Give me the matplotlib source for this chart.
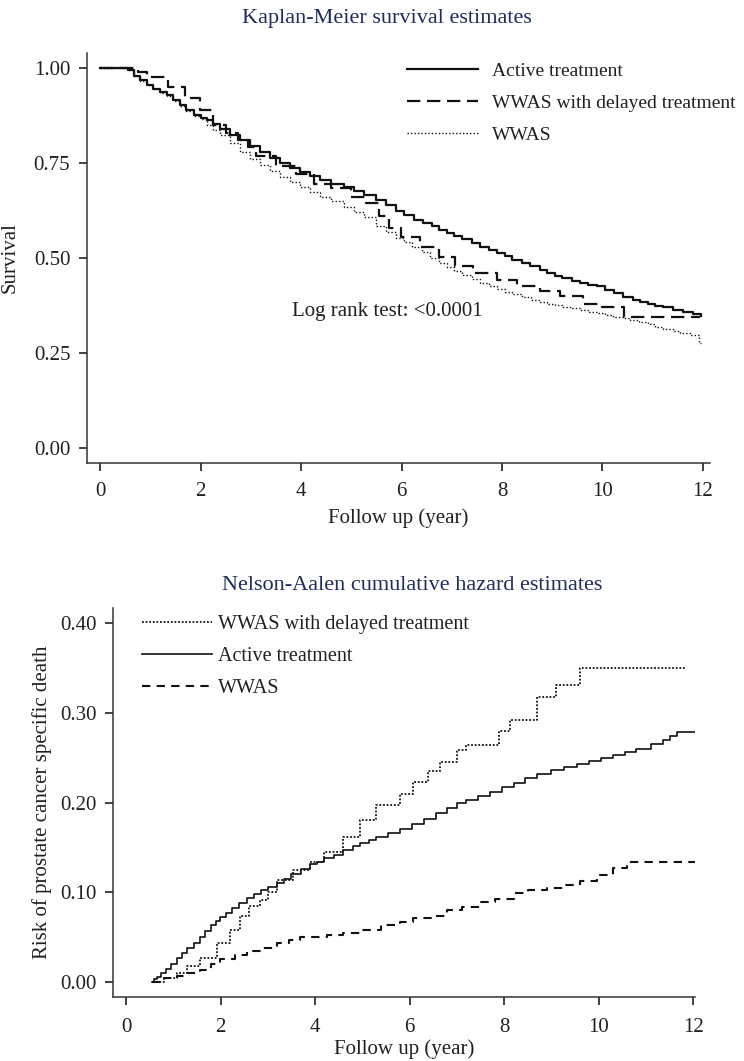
import matplotlib
matplotlib.use('Agg')
import matplotlib.pyplot as plt
from matplotlib.ticker import FormatStrFormatter

plt.rcParams['font.family'] = ['Liberation Serif', 'DejaVu Serif']

# Kaplan-Meier survival
active_t = [0, 0.56, 0.68, 0.8, 0.93, 1.06, 1.2, 1.33, 1.46, 1.59, 1.72, 1.86, 2.0, 2.12, 2.25, 2.39,
            2.59, 2.79, 2.98, 3.18, 3.38, 3.58, 3.78, 3.98, 4.18, 4.38, 4.6, 4.85, 5.05, 5.25, 5.5,
            5.7, 5.9, 6.05, 6.24, 6.42, 6.6, 6.75, 6.9, 7.05, 7.2, 7.4, 7.57, 7.75, 7.9, 8.05, 8.2,
            8.4, 8.55, 8.75, 8.9, 9.05, 9.2, 9.4, 9.55, 9.72, 9.89, 10.05, 10.22, 10.4, 10.6, 10.75,
            10.9, 11.05, 11.2, 11.4, 11.6, 11.8, 11.97]
active_s = [1.0, 0.995, 0.98, 0.968, 0.957, 0.946, 0.937, 0.929, 0.916, 0.903, 0.89, 0.876, 0.87, 0.863, 0.852, 0.84,
            0.825, 0.81, 0.795, 0.78, 0.764, 0.749, 0.738, 0.727, 0.716, 0.705, 0.696, 0.687, 0.676, 0.665, 0.652,
            0.64, 0.625, 0.612, 0.60, 0.592, 0.583, 0.574, 0.565, 0.558, 0.55, 0.54, 0.53, 0.52, 0.513, 0.504, 0.495,
            0.486, 0.478, 0.468, 0.46, 0.453, 0.447, 0.44, 0.435, 0.43, 0.425, 0.417, 0.408, 0.398, 0.39, 0.384,
            0.378, 0.374, 0.37, 0.363, 0.357, 0.352, 0.347]

delayed_t = [0, 0.75, 0.93, 1.36, 1.69, 1.99, 2.25, 2.5, 2.75, 2.95, 3.1, 3.5, 3.9, 4.25, 4.6,
             5.0, 5.3, 5.55, 5.75, 5.98, 6.37, 6.74, 7.07, 7.43, 7.9, 8.3, 8.76, 9.16, 9.62,
             10.0, 10.42, 11.95]
delayed_s = [1.0, 0.99, 0.976, 0.95, 0.922, 0.89, 0.85, 0.83, 0.81, 0.792, 0.77, 0.742, 0.72, 0.695, 0.684,
             0.661, 0.644, 0.61, 0.578, 0.556, 0.53, 0.503, 0.48, 0.46, 0.443, 0.425, 0.412, 0.40, 0.38,
             0.37, 0.345, 0.345]

wwas_t = [0, 0.56, 0.68, 0.8, 0.93, 1.06, 1.2, 1.33, 1.46, 1.59, 1.72, 1.86, 2.0, 2.12, 2.25, 2.39,
          2.59, 2.79, 2.98, 3.18, 3.38, 3.58, 3.78, 3.98, 4.18, 4.38, 4.6, 4.85, 5.05, 5.25, 5.5,
          5.7, 5.9, 6.05, 6.2, 6.4, 6.57, 6.75, 6.9, 7.05, 7.2, 7.4, 7.57, 7.75, 7.9, 8.05, 8.2,
          8.4, 8.57, 8.75, 8.9, 9.05, 9.2, 9.4, 9.56, 9.72, 9.9, 10.05, 10.2, 10.4, 10.55, 10.72,
          10.9, 11.05, 11.2, 11.4, 11.55, 11.75, 11.92, 11.97]
wwas_s = [1.0, 0.995, 0.98, 0.966, 0.955, 0.944, 0.935, 0.927, 0.914, 0.9, 0.887, 0.874, 0.865, 0.85, 0.838, 0.825,
          0.802, 0.78, 0.762, 0.745, 0.73, 0.713, 0.7, 0.687, 0.675, 0.662, 0.65, 0.635, 0.622, 0.607, 0.585,
          0.568, 0.553, 0.542, 0.53, 0.515, 0.50, 0.488, 0.477, 0.466, 0.456, 0.445, 0.434, 0.426, 0.418, 0.411, 0.405,
          0.397, 0.39, 0.385, 0.38, 0.376, 0.372, 0.367, 0.363, 0.358, 0.354, 0.35, 0.345, 0.341, 0.337, 0.331,
          0.325, 0.319, 0.313, 0.307, 0.302, 0.297, 0.276, 0.276]

# Nelson-Aalen cumulative hazard
na_delayed_t = [0.54, 0.8, 1.07, 1.3, 1.57, 1.92, 2.2, 2.41, 2.6, 2.84, 3.0, 3.19, 3.54, 3.89,
                4.2, 4.6, 4.95, 5.3, 5.8, 6.08, 6.4, 6.65, 7.0, 7.2, 7.9, 8.13, 8.7, 9.1, 9.6, 11.83]
na_delayed_h = [0, 0.005, 0.01, 0.018, 0.027, 0.043, 0.058, 0.073, 0.085, 0.091, 0.10, 0.114, 0.125, 0.134,
                0.145, 0.162, 0.18, 0.197, 0.21, 0.223, 0.235, 0.245, 0.258, 0.264, 0.28, 0.292, 0.317, 0.331, 0.35, 0.35]

na_active_t = [0.54, 0.6, 0.65, 0.75, 0.85, 0.95, 1.07, 1.18, 1.3, 1.43, 1.57, 1.68, 1.8, 1.9, 1.99,
               2.12, 2.25, 2.4, 2.55, 2.7, 2.85, 3.0, 3.19, 3.35, 3.5, 3.7, 3.89, 4.05, 4.2, 4.4, 4.6,
               4.8, 4.95, 5.15, 5.3, 5.55, 5.8, 6.05, 6.3, 6.55, 6.79, 7.0, 7.2, 7.45, 7.7, 7.95, 8.2,
               8.45, 8.7, 9.0, 9.26, 9.55, 9.8, 10.05, 10.31, 10.55, 10.8, 11.1, 11.37, 11.52, 11.66, 12.04]
na_active_h = [0, 0.003, 0.006, 0.01, 0.015, 0.02, 0.027, 0.032, 0.038, 0.044, 0.05, 0.057, 0.063, 0.068, 0.072,
               0.077, 0.082, 0.088, 0.094, 0.098, 0.102, 0.106, 0.11, 0.115, 0.12, 0.126, 0.131, 0.134, 0.138, 0.142, 0.147,
               0.151, 0.155, 0.158, 0.162, 0.166, 0.171, 0.176, 0.182, 0.188, 0.194, 0.199, 0.203, 0.207, 0.212, 0.217, 0.222,
               0.227, 0.232, 0.236, 0.24, 0.243, 0.246, 0.25, 0.253, 0.256, 0.26, 0.265, 0.27, 0.274, 0.278, 0.278]

na_wwas_t = [0.54, 0.8, 1.07, 1.3, 1.57, 1.8, 1.99, 2.3, 2.55, 2.9, 3.19, 3.45, 3.68, 4.25, 4.6,
             4.95, 5.4, 5.8, 6.08, 6.5, 6.79, 7.1, 7.49, 7.8, 8.2, 8.5, 8.9, 9.3, 9.6, 9.96,
             10.31, 10.6, 12.04]
na_wwas_h = [0, 0.005, 0.007, 0.01, 0.013, 0.02, 0.026, 0.03, 0.034, 0.038, 0.043, 0.047, 0.05, 0.052, 0.055,
             0.058, 0.063, 0.067, 0.071, 0.074, 0.08, 0.084, 0.0895, 0.093, 0.099, 0.103, 0.105, 0.108, 0.112, 0.119,
             0.127, 0.134, 0.134]

W, H = 744, 1061
ink = '#231f20'
navy = '#1e2d5c'
fs = 15

fig = plt.figure(figsize=(W / 100, H / 100), dpi=100)


def style_axes(ax, xpad):
    for s in ['top', 'right']:
        ax.spines[s].set_visible(False)
    for s in ['left', 'bottom']:
        ax.spines[s].set_color('#333333')
        ax.spines[s].set_linewidth(1.1)
    ax.tick_params(direction='out', length=6, width=1.3, color='#333333',
                   labelsize=fs, labelcolor=ink, pad=6)
    ax.tick_params(axis='x', pad=xpad)


# ---- Kaplan-Meier ----
ax1 = fig.add_axes([87 / W, 1 - 463 / H, 623 / W, 410 / H])
style_axes(ax1, 8)
ax1.plot(active_t, active_s, drawstyle='steps-post', color='#111111', lw=1.6, label='Active treatment')
ax1.plot(delayed_t, delayed_s, drawstyle='steps-post', color='#111111', lw=1.6,
         dashes=(6, 3), label='WWAS with delayed treatment')
ax1.plot(wwas_t, wwas_s, drawstyle='steps-post', color='#111111', lw=1.0,
         dashes=(1, 1.5), label='WWAS')
ax1.set_xlim(-0.26, 12.14)
ax1.set_ylim(-0.04, 1.04)
ax1.set_xticks([0, 2, 4, 6, 8, 10, 12])
ax1.set_yticks([0, 0.25, 0.5, 0.75, 1.0])
ax1.yaxis.set_major_formatter(FormatStrFormatter('%.2f'))
ax1.set_xlabel('Follow up (year)', fontsize=fs, color=ink, labelpad=5)
ax1.set_ylabel('Survival', fontsize=fs, color=ink, labelpad=10)
ax1.legend(loc='upper left', bbox_to_anchor=(407 / W, 1 - 62.5 / H), bbox_transform=fig.transFigure,
           frameon=False, fontsize=14, handlelength=3.65, handletextpad=0.72,
           labelspacing=0.73, borderpad=0, borderaxespad=0, labelcolor=ink)
fig.text(387 / W, 1 - 312 / H, 'Log rank test: <0.0001', ha='center', va='center', fontsize=fs, color=ink)
fig.text(387 / W, 1 - 18 / H, 'Kaplan-Meier survival estimates', ha='center', va='center',
         fontsize=16, color=navy)

# ---- Nelson-Aalen ----
ax2 = fig.add_axes([113 / W, 1 - 997 / H, 582 / W, 389 / H])
style_axes(ax2, 9)
ax2.plot(na_delayed_t, na_delayed_h, drawstyle='steps-post', color='#111111', lw=1.3,
         dashes=(1, 1), label='WWAS with delayed treatment')
ax2.plot(na_active_t, na_active_h, drawstyle='steps-post', color='#111111', lw=1.2,
         label='Active treatment')
ax2.plot(na_wwas_t, na_wwas_h, drawstyle='steps-post', color='#111111', lw=1.5,
         dashes=(4, 3), label='WWAS')
ax2.set_xlim(-0.275, 12.04)
ax2.set_ylim(-0.0167, 0.4167)
ax2.set_xticks([0, 2, 4, 6, 8, 10, 12])
ax2.set_yticks([0, 0.1, 0.2, 0.3, 0.4])
ax2.yaxis.set_major_formatter(FormatStrFormatter('%.2f'))
ax2.set_xlabel('Follow up (year)', fontsize=fs, color=ink, labelpad=2)
ax2.set_ylabel('Risk of prostate cancer specific death', fontsize=fs, color=ink, labelpad=6)
ax2.legend(loc='upper left', bbox_to_anchor=(142 / W, 1 - 615 / H), bbox_transform=fig.transFigure,
           frameon=False, fontsize=14.5, handlelength=3.48, handletextpad=0.3,
           labelspacing=0.63, borderpad=0, borderaxespad=0, labelcolor=ink)
fig.text(412 / W, 1 - 585 / H, 'Nelson-Aalen cumulative hazard estimates', ha='center', va='center',
         fontsize=16, color=navy)

fig.savefig('out.png', dpi=100)
